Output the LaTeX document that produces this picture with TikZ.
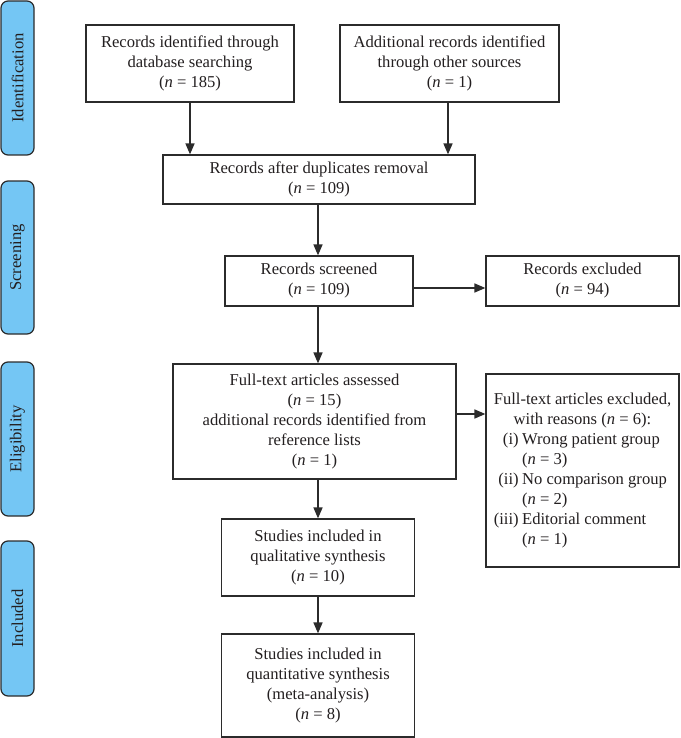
\documentclass[tikz,border=0pt]{standalone}
\usepackage{fontspec}
\setmainfont{Liberation Serif}
\usetikzlibrary{arrows.meta}
\definecolor{textcol}{HTML}{231F20}
\definecolor{boxline}{HTML}{2B2B2B}
\definecolor{phasefill}{HTML}{74C6F4}
\begin{document}
\begin{tikzpicture}[x=1pt,y=-1pt,
  box/.style={draw=boxline, line width=1.2pt, fill=white, inner sep=0pt, align=center,
    font=\fontsize{16.6}{20}\selectfont, text=textcol},
  phase/.style={draw=boxline, line width=1.2pt, fill=phasefill, rounded corners=7pt,
    inner sep=0pt, rotate=90, font=\fontsize{16.6}{20}\selectfont, text=textcol},
  flow/.style={-{Triangle[length=11pt,width=9pt]}, line width=1.6pt, draw=boxline}]
\useasboundingbox (0,0) rectangle (680,738);
% phase bars
\node[phase, minimum width=154pt, minimum height=33pt] (p1) at (17.5,78) {Identification};
\node[phase, minimum width=153pt, minimum height=33pt] (p2) at (17.5,257.5) {Screening};
\node[phase, minimum width=154pt, minimum height=33pt] (p3) at (17.5,439) {Eligibility};
\node[phase, minimum width=155pt, minimum height=33pt] (p4) at (17.5,618.5) {Included};
% boxes
\node[box, minimum width=208pt, minimum height=77pt] (b1) at (190,63.5)
  {Records identified through\\database searching\\(\textit{n} = 185)};
\node[box, minimum width=219pt, minimum height=77pt] (b2) at (449.5,63.5)
  {Additional records identified\\through other sources\\(\textit{n} = 1)};
\node[box, minimum width=312pt, minimum height=49pt] (b3) at (319,179.5)
  {Records after duplicates removal\\(\textit{n} = 109)};
\node[box, minimum width=188pt, minimum height=50pt] (b4) at (319,281)
  {Records screened\\(\textit{n} = 109)};
\node[box, minimum width=193pt, minimum height=50pt] (b5) at (582.5,281)
  {Records excluded\\(\textit{n} = 94)};
\node[box, minimum width=283pt, minimum height=115pt] (b6) at (314.5,421.5)
  {Full-text articles assessed\\(\textit{n} = 15)\\additional records identified from\\reference lists\\(\textit{n} = 1)};
\node[box, minimum width=193pt, minimum height=193pt] (b7) at (582.5,470.5)
  {\begin{tabular}{@{}r@{\hspace{3.5pt}}l@{}}
   \multicolumn{2}{@{}c@{}}{Full-text articles excluded,}\\
   \multicolumn{2}{@{}c@{}}{with reasons (\textit{n} = 6):}\\
   (i) & Wrong patient group\\
       & (\textit{n} = 3)\\
   (ii) & No comparison group\\
       & (\textit{n} = 2)\\
   (iii) & Editorial comment\\
       & (\textit{n} = 1)
   \end{tabular}};
\node[box, minimum width=193pt, minimum height=77pt] (b8) at (318,557.5)
  {Studies included in\\qualitative synthesis\\(\textit{n} = 10)};
\node[box, minimum width=193pt, minimum height=103pt] (b9) at (318,685.5)
  {Studies included in\\quantitative synthesis\\(meta-analysis)\\(\textit{n} = 8)};
% connectors
\draw[flow] (b1.south) -- (b1.south |- b3.north);
\draw[flow] ([xshift=-1.5pt]b2.south) -- ([xshift=-1.5pt]b2.south |- b3.north);
\draw[flow] ([xshift=-1pt]b3.south) -- ([xshift=-1pt]b3.south |- b4.north);
\draw[flow] ([xshift=-1pt]b4.south) -- ([xshift=-1pt]b4.south |- b6.north);
\draw[flow] ([yshift=-7pt]b4.east) -- ([yshift=-7pt]b4.east -| b5.west);
\draw[flow] ([yshift=7.5pt]b6.east) -- ([yshift=7.5pt]b6.east -| b7.west);
\draw[flow] (b8.north |- b6.south) -- (b8.north);
\draw[flow] (b8.south) -- (b9.north);
\end{tikzpicture}
\end{document}
